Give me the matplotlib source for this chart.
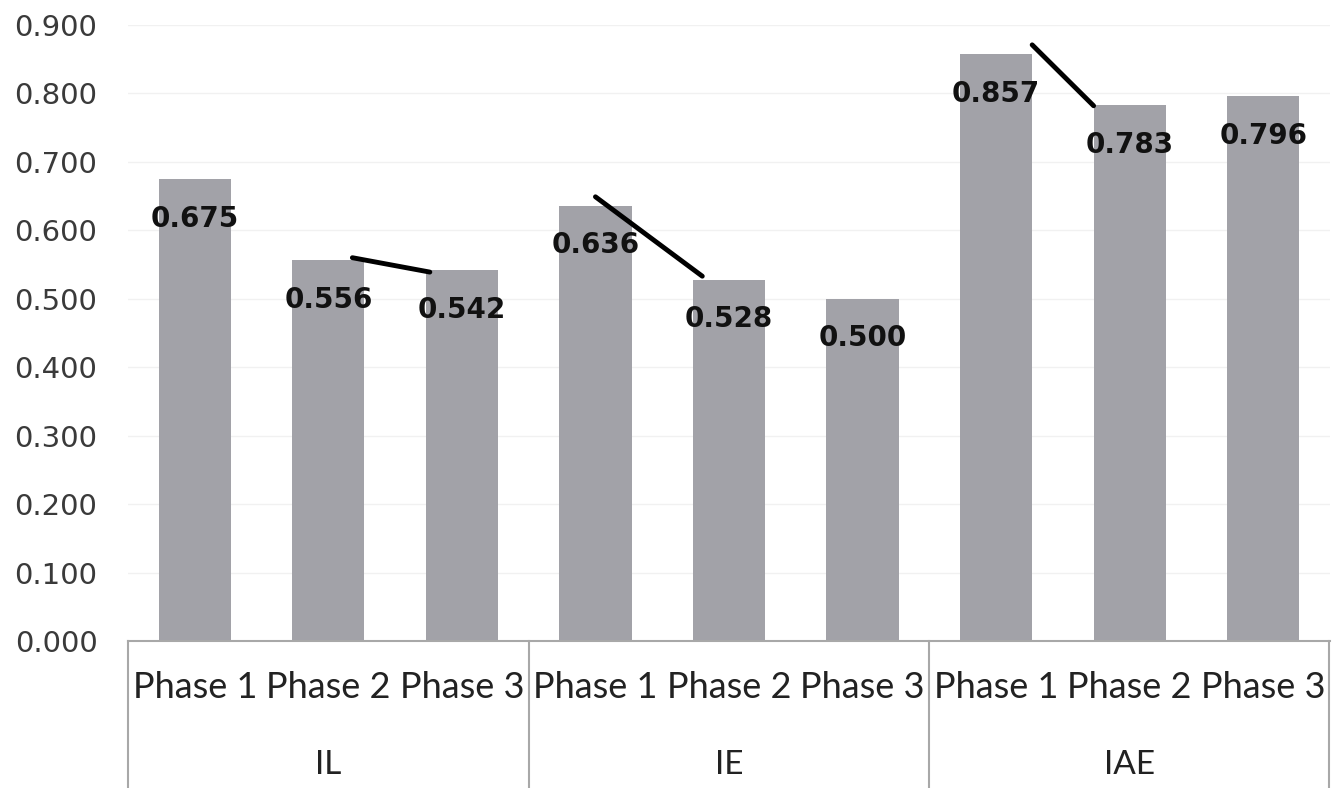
import matplotlib
matplotlib.use("Agg")
import matplotlib.pyplot as plt
import numpy as np

groups = ["IL", "IE", "IAE"]
phases = ["Phase 1", "Phase 2", "Phase 3"]
values = [0.675, 0.556, 0.542,
          0.636, 0.528, 0.500,
          0.857, 0.783, 0.796]

# hand-drawn marker strokes between bars: (x0, y0, x1, y1) in bar-index / value units
strokes = [
    (1.18, 0.560, 1.76, 0.539),
    (3.00, 0.649, 3.80, 0.533),
    (6.27, 0.871, 6.73, 0.782),
]

bar_color = "#a2a2a8"
edge_grey = "#a8a8a8"

fig = plt.figure(figsize=(13.32, 7.88), dpi=100)
ax = fig.add_axes([128 / 1332, 1 - 641 / 788, 1202 / 1332, 616 / 788])

x = np.arange(len(values))
bars = ax.bar(x, values, width=0.54, color=bar_color, zorder=2)

for xi, v in zip(x, values):
    ax.text(xi, v - 0.058, f"{v:.3f}", ha="center", va="center",
            fontsize=20, fontweight="bold", color="#111111",
            family="DejaVu Sans", zorder=4)

for x0, y0, x1, y1 in strokes:
    ax.plot([x0, x1], [y0, y1], color="black", lw=3.5,
            solid_capstyle="round", zorder=5)

ax.set_xlim(-0.5, len(values) - 0.5)
ax.set_ylim(0, 0.9)
ax.set_yticks(np.arange(0, 0.91, 0.1))
ax.set_yticklabels([f"{t:.3f}" for t in np.arange(0, 0.91, 0.1)],
                   fontsize=21, color="#3a3a3a", family="DejaVu Sans")
ax.tick_params(axis="y", length=0, pad=22)
ax.set_xticks([])
ax.grid(axis="y", color="#f1f1f1", lw=1, zorder=0)

for s in ["top", "right", "left"]:
    ax.spines[s].set_visible(False)
ax.spines["bottom"].set_color(edge_grey)
ax.spines["bottom"].set_linewidth(1.5)

# two-level category table under the axis
trans = ax.get_xaxis_transform()
bottom = -641 / 616
for b in [-0.5, 2.5, 5.5, 8.5]:
    xb = b - 0.01 if b == 8.5 else b
    ax.plot([xb, xb], [0, bottom], color=edge_grey, lw=1.5,
            transform=trans, clip_on=False)

for xi in x:
    ax.text(xi, -47 / 616, phases[xi % 3], transform=trans, ha="center",
            va="center", fontsize=26, color="#222222", family="Lato")

for gi, g in enumerate(groups):
    ax.text(gi * 3 + 1, -124 / 616, g, transform=trans, ha="center",
            va="center", fontsize=24, color="#222222", family="Lato")

fig.savefig("out.png", dpi=100, facecolor="white")
